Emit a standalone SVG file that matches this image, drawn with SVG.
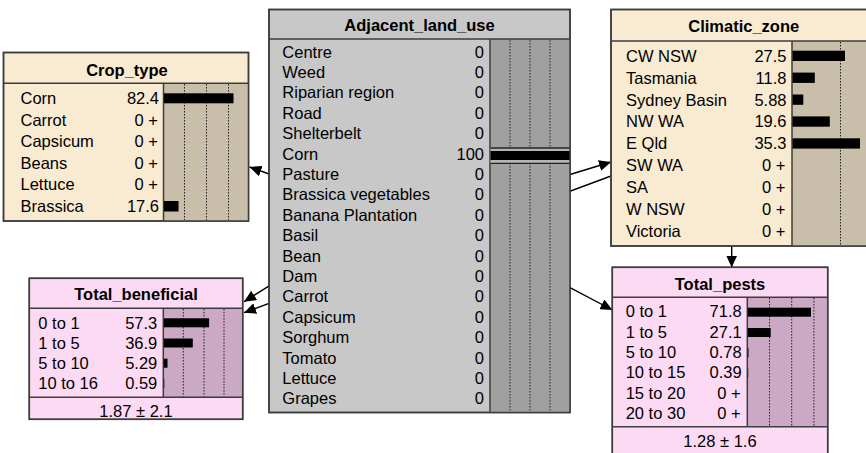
<svg xmlns="http://www.w3.org/2000/svg" width="866" height="453" viewBox="0 0 866 453">
<defs>
<style>
.t{font-family:"Liberation Sans",Arial,sans-serif;font-size:16.5px;fill:#000}
.b{font-weight:bold}
.e{text-anchor:end}
.m{text-anchor:middle}
.box{stroke:#3c3c3c;stroke-width:1.5}
.sep{stroke:#3c3c3c;stroke-width:1.5}
.dot{stroke:#222;stroke-width:1;stroke-dasharray:1.5,1.5}
.link{stroke:#000;stroke-width:1.4;fill:none}
.cream{fill:#F9EBD2}
.khaki{fill:#C8BEA9}
.grey{fill:#C8C8C8}
.dgrey{fill:#A0A0A0}
.pink{fill:#FDDAF3}
.mauve{fill:#CBA8C3}
</style>
<marker id="arr" viewBox="0 0 12 11" refX="12" refY="5.5" markerWidth="12" markerHeight="11" orient="auto" markerUnits="userSpaceOnUse">
<path d="M0,0 L12,5.5 L0,11 z" fill="#000"/>
</marker>
</defs>
<rect width="866" height="453" fill="#fff"/>

<g id="connectors">
<line class="link" x1="269" y1="174" x2="249.5" y2="167" marker-end="url(#arr)"/>
<line class="link" x1="570" y1="174.5" x2="611" y2="162" marker-end="url(#arr)"/>
<line class="link" x1="611" y1="176" x2="244" y2="312.7" marker-end="url(#arr)"/>
<line class="link" x1="272" y1="284.2" x2="244" y2="301.7" marker-end="url(#arr)"/>
<line class="link" x1="570" y1="287.7" x2="612.5" y2="310" marker-end="url(#arr)"/>
<line class="link" x1="731.7" y1="246" x2="731.7" y2="267.5" marker-end="url(#arr)"/>
</g>

<g id="crop_type">
<rect class="box cream" x="3.5" y="52.5" width="245" height="168.5"/>
<rect class="khaki" x="163.5" y="83.3" width="85" height="137.7"/>
<line class="sep" x1="3.5" y1="83.3" x2="248.5" y2="83.3"/>
<line class="sep" x1="163.5" y1="83.3" x2="163.5" y2="221"/>
<line class="dot" x1="184.5" y1="84" x2="184.5" y2="220"/>
<line class="dot" x1="206.5" y1="84" x2="206.5" y2="220"/>
<line class="dot" x1="228.5" y1="84" x2="228.5" y2="220"/>
<rect x="164" y="93.3" width="69.5" height="10" fill="#000"/>
<rect x="164" y="201" width="14.5" height="10.5" fill="#000"/>
<rect class="box" x="3.5" y="52.5" width="245" height="168.5" fill="none"/>
<text class="t b m" x="127" y="75.8">Crop_type</text>
<text class="t" x="20.5" y="104.3">Corn</text><text class="t e" x="159" y="104.3">82.4</text>
<text class="t" x="20.5" y="125.8">Carrot</text><text class="t e" x="158" y="125.8">0 +</text>
<text class="t" x="20.5" y="147.3">Capsicum</text><text class="t e" x="158" y="147.3">0 +</text>
<text class="t" x="20.5" y="168.8">Beans</text><text class="t e" x="158" y="168.8">0 +</text>
<text class="t" x="20.5" y="190.3">Lettuce</text><text class="t e" x="158" y="190.3">0 +</text>
<text class="t" x="20.5" y="211.8">Brassica</text><text class="t e" x="159" y="211.8">17.6</text>
</g>

<g id="adjacent_land_use">
<rect class="box grey" x="269" y="9.5" width="301" height="403"/>
<rect class="dgrey" x="490" y="39" width="80" height="373.5"/>
<line class="sep" x1="269" y1="39" x2="570" y2="39"/>
<line class="sep" x1="490" y1="39" x2="490" y2="412.5"/>
<line class="dot" x1="510" y1="40" x2="510" y2="412"/>
<line class="dot" x1="530" y1="40" x2="530" y2="412"/>
<line class="dot" x1="550" y1="40" x2="550" y2="412"/>
<rect x="490.5" y="147.5" width="79.5" height="16" fill="#B4B4B4"/>
<line x1="490.5" y1="148" x2="570" y2="148" stroke="#222" stroke-width="1.3"/>
<line x1="490.5" y1="163.3" x2="570" y2="163.3" stroke="#222" stroke-width="1.3"/>
<rect x="490.5" y="151" width="79.5" height="9" fill="#000"/>
<rect class="box" x="269" y="9.5" width="301" height="403" fill="none"/>
<text class="t b m" x="419.5" y="30.7">Adjacent_land_use</text>
<text class="t" x="282.3" y="57.5">Centre</text><text class="t e" x="484" y="57.5">0</text>
<text class="t" x="282.3" y="77.9">Weed</text><text class="t e" x="484" y="77.9">0</text>
<text class="t" x="282.3" y="98.3">Riparian region</text><text class="t e" x="484" y="98.3">0</text>
<text class="t" x="282.3" y="118.7">Road</text><text class="t e" x="484" y="118.7">0</text>
<text class="t" x="282.3" y="139.1">Shelterbelt</text><text class="t e" x="484" y="139.1">0</text>
<text class="t" x="282.3" y="159.5">Corn</text><text class="t e" x="484" y="159.5">100</text>
<text class="t" x="282.3" y="179.9">Pasture</text><text class="t e" x="484" y="179.9">0</text>
<text class="t" x="282.3" y="200.3">Brassica vegetables</text><text class="t e" x="484" y="200.3">0</text>
<text class="t" x="282.3" y="220.7">Banana Plantation</text><text class="t e" x="484" y="220.7">0</text>
<text class="t" x="282.3" y="241.1">Basil</text><text class="t e" x="484" y="241.1">0</text>
<text class="t" x="282.3" y="261.5">Bean</text><text class="t e" x="484" y="261.5">0</text>
<text class="t" x="282.3" y="281.9">Dam</text><text class="t e" x="484" y="281.9">0</text>
<text class="t" x="282.3" y="302.3">Carrot</text><text class="t e" x="484" y="302.3">0</text>
<text class="t" x="282.3" y="322.7">Capsicum</text><text class="t e" x="484" y="322.7">0</text>
<text class="t" x="282.3" y="343.1">Sorghum</text><text class="t e" x="484" y="343.1">0</text>
<text class="t" x="282.3" y="363.5">Tomato</text><text class="t e" x="484" y="363.5">0</text>
<text class="t" x="282.3" y="383.9">Lettuce</text><text class="t e" x="484" y="383.9">0</text>
<text class="t" x="282.3" y="404.3">Grapes</text><text class="t e" x="484" y="404.3">0</text>
</g>

<g id="climatic_zone">
<rect class="box cream" x="611" y="9.5" width="400" height="236.5"/>
<rect class="khaki" x="792" y="41" width="219" height="205"/>
<line class="sep" x1="611" y1="41" x2="1011" y2="41"/>
<line class="sep" x1="792" y1="41" x2="792" y2="246"/>
<line class="dot" x1="840.5" y1="42" x2="840.5" y2="245"/>
<rect x="792.5" y="50.7" width="52.5" height="10.3" fill="#000"/>
<rect x="792.5" y="72.6" width="22.3" height="10.3" fill="#000"/>
<rect x="792.5" y="94.5" width="10.8" height="10.3" fill="#000"/>
<rect x="792.5" y="116.4" width="37.3" height="10.3" fill="#000"/>
<rect x="792.5" y="138.3" width="67.5" height="10.3" fill="#000"/>
<rect class="box" x="611" y="9.5" width="400" height="236.5" fill="none"/>
<text class="t b m" x="743.7" y="32.3">Climatic_zone</text>
<text class="t" x="626" y="61.7">CW NSW</text><text class="t e" x="786.5" y="61.7">27.5</text>
<text class="t" x="626" y="83.6">Tasmania</text><text class="t e" x="786.5" y="83.6">11.8</text>
<text class="t" x="626" y="105.5">Sydney Basin</text><text class="t e" x="786.5" y="105.5">5.88</text>
<text class="t" x="626" y="127.4">NW WA</text><text class="t e" x="786.5" y="127.4">19.6</text>
<text class="t" x="626" y="149.3">E Qld</text><text class="t e" x="786.5" y="149.3">35.3</text>
<text class="t" x="626" y="171.2">SW WA</text><text class="t e" x="785.5" y="171.2">0 +</text>
<text class="t" x="626" y="193.1">SA</text><text class="t e" x="785.5" y="193.1">0 +</text>
<text class="t" x="626" y="215">W NSW</text><text class="t e" x="785.5" y="215">0 +</text>
<text class="t" x="626" y="236.9">Victoria</text><text class="t e" x="785.5" y="236.9">0 +</text>
</g>

<g id="total_beneficial">
<rect class="box pink" x="29.3" y="278.3" width="213.4" height="141"/>
<rect class="mauve" x="163.3" y="308.3" width="79.4" height="89"/>
<line class="sep" x1="29.3" y1="308.3" x2="242.7" y2="308.3"/>
<line class="sep" x1="163.3" y1="308.3" x2="163.3" y2="397.3"/>
<line class="sep" x1="29.3" y1="397.3" x2="242.7" y2="397.3"/>
<line class="dot" x1="183.3" y1="309" x2="183.3" y2="396.5"/>
<line class="dot" x1="204" y1="309" x2="204" y2="396.5"/>
<line class="dot" x1="224" y1="309" x2="224" y2="396.5"/>
<rect x="163.8" y="318.3" width="45.3" height="9" fill="#000"/>
<rect x="163.8" y="338.5" width="29" height="9" fill="#000"/>
<rect x="163.8" y="358.7" width="3.7" height="9" fill="#000"/>
<rect x="163.8" y="378.9" width="0.5" height="9" fill="#000"/>
<rect class="box" x="29.3" y="278.3" width="213.4" height="141" fill="none"/>
<text class="t b m" x="136" y="300">Total_beneficial</text>
<text class="t" x="38.3" y="328.5">0 to 1</text><text class="t e" x="157.3" y="328.5">57.3</text>
<text class="t" x="38.3" y="348.7">1 to 5</text><text class="t e" x="157.3" y="348.7">36.9</text>
<text class="t" x="38.3" y="368.9">5 to 10</text><text class="t e" x="157.3" y="368.9">5.29</text>
<text class="t" x="38.3" y="389.1">10 to 16</text><text class="t e" x="157.3" y="389.1">0.59</text>
<text class="t m" x="136" y="416.7">1.87 ± 2.1</text>
</g>

<g id="total_pests">
<rect class="box pink" x="612.3" y="267.3" width="215.4" height="190"/>
<rect class="mauve" x="747.3" y="297.3" width="80.4" height="129.4"/>
<line class="sep" x1="612.3" y1="297.3" x2="827.7" y2="297.3"/>
<line class="sep" x1="747.3" y1="297.3" x2="747.3" y2="426.7"/>
<line class="sep" x1="612.3" y1="426.7" x2="827.7" y2="426.7"/>
<line class="dot" x1="769.5" y1="298" x2="769.5" y2="426"/>
<line class="dot" x1="791.7" y1="298" x2="791.7" y2="426"/>
<line class="dot" x1="813.9" y1="298" x2="813.9" y2="426"/>
<rect x="747.8" y="307.7" width="63.2" height="9" fill="#000"/>
<rect x="747.8" y="328" width="22.9" height="9" fill="#000"/>
<rect x="747.8" y="348.3" width="0.7" height="9" fill="#000"/>
<rect x="747.8" y="368.6" width="0.4" height="9" fill="#000"/>
<rect class="box" x="612.3" y="267.3" width="215.4" height="190" fill="none"/>
<text class="t b m" x="720" y="290">Total_pests</text>
<text class="t" x="625.7" y="317.3">0 to 1</text><text class="t e" x="741.7" y="317.3">71.8</text>
<text class="t" x="625.7" y="337.6">1 to 5</text><text class="t e" x="741.7" y="337.6">27.1</text>
<text class="t" x="625.7" y="357.9">5 to 10</text><text class="t e" x="741.7" y="357.9">0.78</text>
<text class="t" x="625.7" y="378.2">10 to 15</text><text class="t e" x="741.7" y="378.2">0.39</text>
<text class="t" x="625.7" y="398.5">15 to 20</text><text class="t e" x="740.7" y="398.5">0 +</text>
<text class="t" x="625.7" y="418.8">20 to 30</text><text class="t e" x="740.7" y="418.8">0 +</text>
<text class="t m" x="720" y="446.7">1.28 ± 1.6</text>
</g>
</svg>
